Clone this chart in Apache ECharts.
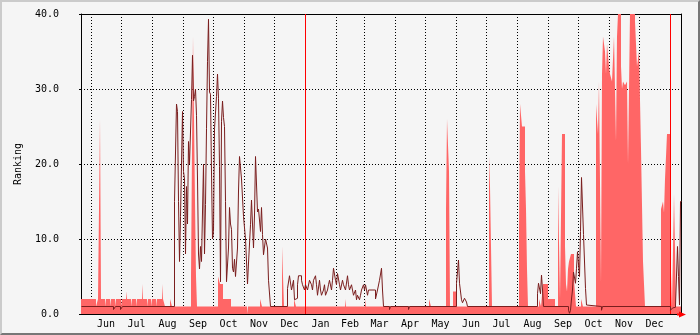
<!DOCTYPE html>
<html><head><meta charset="utf-8">
<script src="https://cdn.jsdelivr.net/npm/echarts@6/dist/echarts.min.js"></script>
<style>
html,body{margin:0;padding:0;background:#f5f5f5;}
#frame{width:700px;height:335px;box-sizing:border-box;border-style:solid;border-width:2px;border-color:#cbcbcb #777777 #777777 #cbcbcb;background:#f5f5f5;}
#chart{width:696px;height:331px;}
</style></head><body><div id="frame"><div id="chart"></div></div>
<script>
// x values are day offsets from the left edge of the plot (22 May, year 1)
var monthStartDays = [10,40,71,102,132,163,193,255,283,314,344,375,405,436,467,497,528,558];
var yearStartDays = [224,589];
var monthLabelDays = [25,55.5,86.5,117,147.5,178,208.5,239.5,269,298.5,329,359.5,390,420.5,451.5,482,512.5,543,573.5];
var monthLabels = ['Jun','Jul','Aug','Sep','Oct','Nov','Dec','Jan','Feb','Mar','Apr','May','Jun','Jul','Aug','Sep','Oct','Nov','Dec'];
var yTicks = [0,10,20,30,40];

// light red area: change points (day, value)
var areaDay = [0,15,17,19,20,24,25,29,30,34,35,40,41,45,46,50,51,55,56,61,62,66,67,70,71,75,76,81,82,84,89,91,
  110,111,112,114,115,116,137,139,142,150,166,167,179,181,201,203,213,215,264,265,284,285,348,350,
  365,366,368,369,372,376,408,409,411,438,439,441,444,445,446,447,458,460,462,467,474,477,479,481,484,485,486,487,488,490,493,495,500,502,
  515,517,518,520,521,522,524,525,526,528,529,531,533,535,536,537,540,541,542,544,546,547,549,554,556,558,560,562,564,
  580,582,583,584,586,589,591,593,595,600];
var areaVal = [2,1,2,26,2,1,2,1,2,1,2,1,2,3,2,1,2,1,2,4,2,1,2,1,2,1,2,4,2,1,2,1,
  5,22,37,15,5,1,5,4,2,1,0,1,2,1,9,1,2,1,2,1,2,1,2,1,
  14,26,19,1,3,1,21,17,1,11,28,25,19,14,6,1,2,1,4,2,1,17,2,24,9,4,3,6,7,8,4.5,1,2,1,
  28,24,31,4,32,37,35,32,36,33,32,31,37,23,37,40,33,30,31,30.5,31,20,40,39,33,35,22,7,1,
  14,15,13.5,18,24,10,1,16,1,1];

// dark red line: change points (day, value)
var lineDay = [0,32,34,39,41,93,95,96,97,98,99,101,102,103,104,105,106,107,108,110,111,112,113,114,115,116,117,118,119,120,
  121,122,123,124,125,126,127,128,129,130,131,132,133,135,136,137,138,139,140,141,142,143,144,145,147,148,149,150,
  151,152,153,154,156,157,158,160,162,164,166,167,169,170,172,173,174,176,177,179,180,181,182,184,186,187,189,
  206,208,210,212,213,214,216,217,220,221,223,224,226,228,230,231,232,234,235,236,238,239,240,242,243,244,246,247,248,
  250,251,252,254,255,256,258,259,261,262,264,266,267,268,270,271,272,274,275,276,278,279,280,282,283,284,286,287,
  294,296,298,300,301,302,308,309,327,328,375,377,378,380,381,383,385,386,456,457,459,460,461,462,
  487,488,489,490,491,492,494,495,496,498,499,500,502,504,505,506,520,521,589,590,591,592,594,596,597,598,599,600];
var lineVal = [1,0.6,1,0.6,1,15,28,27,15,7,13,27,19,18,8,17,12,23,20,28.6,34.5,28.4,29,30,26.5,18,8,6,9,7,
  13.6,20,8,14.6,24.7,33.7,39.3,29.6,29.3,18.8,10,11,24.7,29,32,28.7,19.7,4.3,25.7,28.4,26.2,25,15,4.3,8.8,14.2,12,11.3,
  6.1,5.6,7.3,5,8.8,16.4,21,18,13,10,4,6.8,11.9,15.2,8.8,13.2,21,13.6,14,11,14.2,10.6,7.9,10,8.8,4.5,1,
  3.4,5.1,3.2,4.5,1.9,2.1,3.9,5.1,4.5,3.9,3.2,3.9,3.2,4.5,3.9,3.2,4.5,5.1,3.9,2.5,4.5,3.2,2.5,3.2,3.9,2.5,3.2,3.9,4.5,
  3.2,4.5,6.1,4.5,3.9,5.4,3.9,3.2,4.5,3.9,3.2,5.1,3.9,3.2,3.9,3.2,2.5,3.2,1.9,2.5,1.9,2.5,3.2,3.9,3.2,3.9,2.5,3.2,
  2,3.2,4.5,6.1,3.2,1,0.6,1,0.6,1,4.1,7.2,4.1,1.9,1.5,2.1,1.6,1,2.7,4.1,2.7,5.2,3.2,1,
  0.5,0.1,0.5,2,3.2,5.6,4.1,6.1,8.3,5,11,18.2,10.6,3.4,1.2,1,0.5,1,0.5,0.6,0.8,0.9,1.2,9,5,1.2,15,15];

// build step outlines (value holds from its day until the next change point)
function stepPoints(days, vals){
  var out = [];
  for (var i = 0; i < days.length; i++){
    if (i > 0) out.push([days[i], vals[i-1]]);
    out.push([days[i], vals[i]]);
  }
  return out;
}

var FONT = 'DejaVu Sans Mono';
var chart = echarts.init(document.getElementById('chart'), null, {renderer:'canvas'});
var dotted = {color:'#000', width:1, type:[1,2]};
chart.setOption({
  animation:false,
  backgroundColor:'#f5f5f5',
  grid:{left:79, right:17, top:12, bottom:19, show:false},
  xAxis:[{
    type:'value', position:'bottom', min:0, max:600,
    axisLine:{show:true, onZero:false, lineStyle:{color:'#000', width:1}},
    axisTick:{show:false, customValues:monthStartDays},
    axisLabel:{customValues:monthLabelDays, margin:5, color:'#000', fontFamily:FONT, fontSize:10,
      formatter:function(v){ var i = monthLabelDays.indexOf(v); return i>=0 ? monthLabels[i] : ''; }},
    splitLine:{show:true, lineStyle:dotted}
  },{
    type:'value', position:'top', min:-0.5, max:599.5,
    axisLine:{show:true, onZero:false, lineStyle:{color:'#000', width:1}},
    axisTick:{show:false}, axisLabel:{show:false}, splitLine:{show:false}
  }],
  yAxis:[{
    type:'value', position:'left', min:0, max:40, interval:10,
    name:'Ranking', nameLocation:'middle', nameGap:58,
    nameTextStyle:{color:'#000', fontFamily:FONT, fontSize:10},
    axisLine:{show:true, onZero:false, lineStyle:{color:'#000', width:1}},
    axisTick:{show:true, length:2, lineStyle:{color:'#000'}},
    axisLabel:{margin:22, color:'#000', fontFamily:FONT, fontSize:10,
      formatter:function(v){ return v.toFixed(1); }},
    splitLine:{show:true, lineStyle:dotted}
  },{
    type:'value', position:'right', min:0, max:40,
    axisLine:{show:true, onZero:false, lineStyle:{color:'#000', width:1}},
    axisTick:{show:false}, axisLabel:{show:false}, splitLine:{show:false}
  }],
  series:[{
    type:'line', xAxisIndex:0, yAxisIndex:0, symbol:'none', z:2,
    lineStyle:{width:0}, areaStyle:{color:'#ff6666', opacity:1},
    data: stepPoints(areaDay, areaVal)
  },{
    type:'line', xAxisIndex:1, yAxisIndex:0, symbol:'none', z:6,
    lineStyle:{width:1, color:'#7a1e1e'},
    data: stepPoints(lineDay, lineVal),
    markLine:{silent:true, symbol:'none', z:4, label:{show:false},
      lineStyle:{color:'#ff0000', width:1, type:'solid'},
      data: yearStartDays.map(function(d){ return {xAxis:d}; })}
  }],
  graphic:[{type:'polygon', z:100, shape:{points:[[675,311.5],[677,311.5],[677,309.5],[684,312.5],[677,315.5],[677,313.5],[675,313.5]]}, style:{fill:'#ff0000'}}]
});
</script>
</body></html>
